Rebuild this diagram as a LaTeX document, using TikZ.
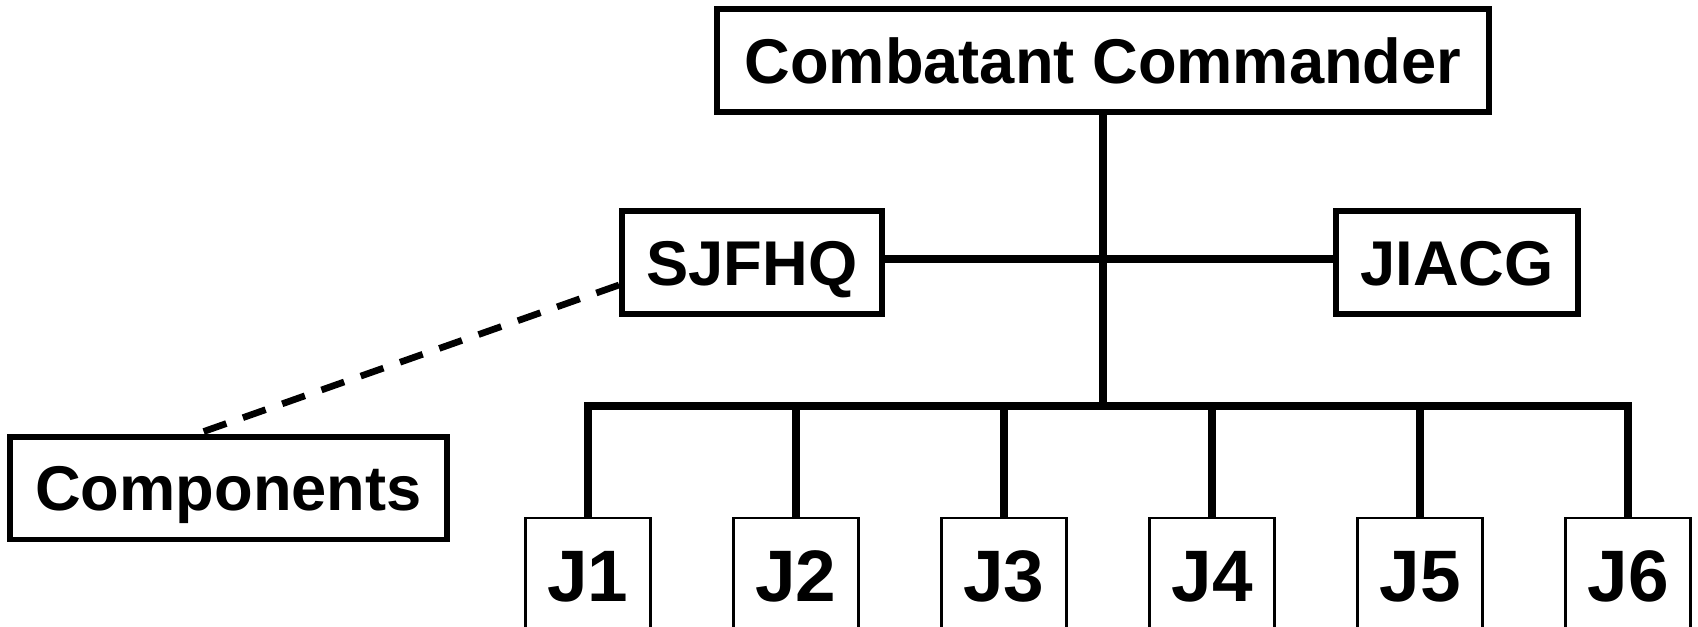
\documentclass[tikz,border=0pt]{standalone}
\usepackage{fontspec}
\setmainfont{Liberation Sans}
\usetikzlibrary{calc}
\begin{document}
\begin{tikzpicture}[x=0.02cm,y=-0.02cm,
  box/.style={draw,line width=3.4pt,inner sep=0pt,minimum height=2.06cm,
    font=\bfseries\fontsize{36}{40}\selectfont,text height=25.8pt,text depth=0pt},
  jbox/.style={draw,line width=1.2pt,anchor=north,minimum width=2.5cm,
    inner xsep=0pt,inner ysep=0.62cm,
    font=\bfseries\fontsize{41.5}{45}\selectfont,text height=29.7pt,text depth=1cm},
  link/.style={line width=4.3pt}]
% page
\useasboundingbox (0,0) rectangle (1698,626);
% boxes
\node[box,minimum width=15.46cm] (cc) at (1103,60.5) {Combatant Commander};
\node[box,minimum width=5.2cm] (sjfhq) at (752,262.5) {SJFHQ};
\node[box,minimum width=4.84cm] (jiacg) at (1457,262.5) {JIACG};
\node[box,minimum width=8.74cm] (comp) at (228.5,488) {Components};
% staff directorates
\foreach \i in {1,...,6}
  \node[jbox] (j\i) at ({588+208*(\i-1)},517) {J\i};
% links
\coordinate (bus) at ($(cc.south)+(0,291)$);
\draw[link] (cc.south) -- (bus);
\draw[link] ($(sjfhq.east)+(0,-3.5)$) -- ($(jiacg.west)+(0,-3.5)$);
\draw[link] (j1.north) |- (bus) -| (j6.north);
\foreach \i in {2,...,5}
  \draw[link] (j\i.north) -- (j\i.north |- bus);
\draw[link,line width=3.8pt,dash pattern=on 13.7pt off 10pt]
  ($(sjfhq.west)+(0,22.5)$) -- ($(comp.north)+(-30.5,0)$);
\end{tikzpicture}
\end{document}
